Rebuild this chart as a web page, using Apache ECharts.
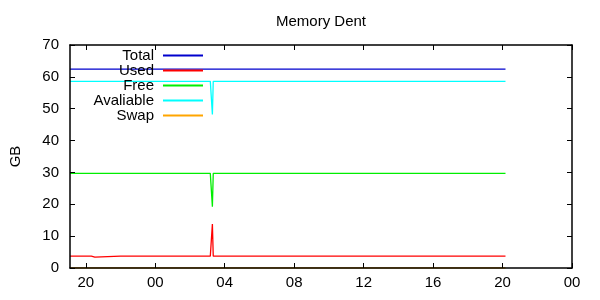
<!DOCTYPE html>
<html><head><meta charset="utf-8">
<script src="https://cdn.jsdelivr.net/npm/echarts@6/dist/echarts.min.js"></script>
<style>html,body{margin:0;padding:0;background:#fff}#c{width:600px;height:300px}</style>
</head><body><div id="c"></div>
<script>
const chartTitle = 'Memory Dent';
const yName = 'GB';
const seriesNames = ['Total', 'Used', 'Free', 'Avaliable', 'Swap'];
const seriesColors = ['#0000cd', '#ff0000', '#00ee00', '#00ffff', '#ffa500'];
// hours since 00:00 of the first day
const hours     = [19.09, 20.04, 20.08, 20.12, 20.32, 20.36, 20.52, 20.56, 22.0, 24.08, 24.12, 24.16, 26.0, 27.17, 27.29, 27.34, 27.67, 27.71, 27.75, 28.29, 28.33, 28.37, 32.0, 36.0, 40.0, 44.17];
const total     = [62.4, 62.4, 62.4, 62.4, 62.4, 62.4, 62.4, 62.4, 62.4, 62.4, 62.4, 62.4, 62.4, 62.4, 62.4, 62.4, 62.4, 62.4, 62.4, 62.4, 62.4, 62.4, 62.4, 62.4, 62.4, 62.4];
const used      = [3.7, 3.7, 3.4, 3.7, 3.7, 3.4, 3.4, 3.7, 3.7, 3.7, 3.4, 3.7, 3.7, 3.7, 13.8, 3.7, 3.7, 3.4, 3.7, 3.7, 3.4, 3.7, 3.7, 3.7, 3.7, 3.7];
const free      = [29.7, 29.7, 29.7, 29.7, 29.7, 29.7, 29.7, 29.7, 29.7, 29.7, 29.7, 29.7, 29.7, 29.7, 19.2, 29.7, 29.7, 29.7, 29.7, 29.7, 30.0, 29.7, 29.7, 29.7, 29.7, 29.7];
const avaliable = [58.6, 58.6, 58.6, 58.6, 58.6, 58.6, 58.6, 58.6, 58.6, 58.6, 58.6, 58.6, 58.6, 58.6, 48.2, 58.6, 58.6, 58.6, 58.6, 58.6, 58.6, 58.6, 58.6, 58.6, 58.6, 58.6];
const swap      = [0, 0, 0, 0, 0, 0, 0, 0, 0, 0, 0, 0, 0, 0, 0, 0, 0, 0, 0, 0, 0, 0, 0, 0, 0, 0];
const xTickHours = [20, 24, 28, 32, 36, 40, 44, 48];
const xMin = 19.09, xMax = 48;

const font = 'Liberation Sans, Arial, sans-serif';
const pad2 = v => String(Math.round(v) % 24).padStart(2, '0');
const values = [total, used, free, avaliable, swap];
const lineStyleAxis = { color: '#000', width: 1.5 };

const chart = echarts.init(document.getElementById('c'), null, { renderer: 'canvas' });
chart.setOption({
  animation: false,
  backgroundColor: '#fff',
  title: { text: chartTitle, left: 271, top: 9, textStyle: { fontSize: 15, fontWeight: 'normal', color: '#000', fontFamily: font } },
  grid: { left: 64, right: 28, top: 45, bottom: 32, containLabel: false },
  legend: {
    data: seriesNames, orient: 'vertical', align: 'right', right: 397, top: 48, padding: 0,
    itemGap: 0, itemWidth: 40, itemHeight: 2, icon: 'rect',
    textStyle: { fontSize: 15, lineHeight: 15, color: '#000', fontFamily: font, padding: [0, 4, 0, 0] }
  },
  xAxis: [
    { type: 'value', position: 'bottom', min: xMin, max: xMax, z: 10,
      axisLine: { show: true, onZero: false, lineStyle: lineStyleAxis },
      axisTick: { show: true, inside: true, length: 5, customValues: xTickHours, lineStyle: { color: '#000', width: 1 } },
      axisLabel: { show: true, customValues: xTickHours, formatter: v => pad2(v), margin: 7, fontSize: 15, color: '#000', fontFamily: font },
      splitLine: { show: false } },
    { type: 'value', position: 'top', min: xMin, max: xMax, z: 10,
      axisLine: { show: true, onZero: false, lineStyle: lineStyleAxis },
      axisTick: { show: true, inside: true, length: 5, customValues: xTickHours, lineStyle: { color: '#000', width: 1 } },
      axisLabel: { show: false }, splitLine: { show: false } }
  ],
  yAxis: [
    { type: 'value', position: 'left', min: 0, max: 70, interval: 10, z: 10,
      name: yName, nameLocation: 'middle', nameGap: 47, nameTextStyle: { fontSize: 15, color: '#000', fontFamily: font },
      axisLine: { show: true, onZero: false, lineStyle: lineStyleAxis },
      axisTick: { show: true, inside: true, length: 5, lineStyle: { color: '#000', width: 1 } },
      axisLabel: { show: true, margin: 11, fontSize: 15, color: '#000', fontFamily: font },
      splitLine: { show: false } },
    { type: 'value', position: 'right', min: 0, max: 70, interval: 10, z: 10,
      axisLine: { show: true, onZero: false, lineStyle: lineStyleAxis },
      axisTick: { show: true, inside: true, length: 5, lineStyle: { color: '#000', width: 1 } },
      axisLabel: { show: false }, splitLine: { show: false } }
  ],
  series: seriesNames.map((n, i) => ({
    name: n, type: 'line', xAxisIndex: 0, yAxisIndex: 0,
    data: hours.map((h, j) => [h, values[i][j]]),
    showSymbol: false, symbol: 'none', z: i === 4 ? 1 : 2,
    color: seriesColors[i],
    lineStyle: { color: seriesColors[i], width: 1.3 }
  }))
});
</script></body></html>
